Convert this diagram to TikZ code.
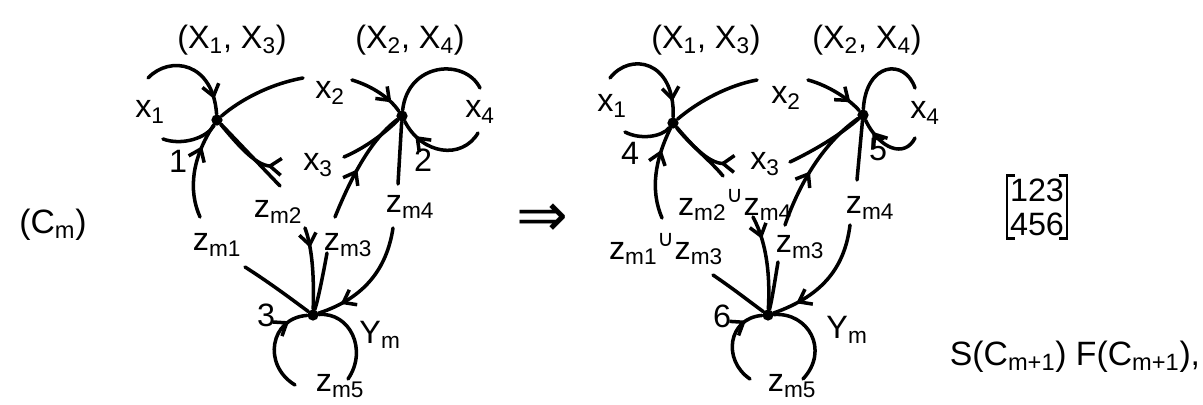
\documentclass[tikz,border=0pt]{standalone}
\usepackage{fontspec}
\setmainfont{Liberation Sans}
\newfontfamily\symfont{DejaVu Sans}
\usepackage{tikz}
\usetikzlibrary{arrows.meta,decorations.markings}

\begin{document}
\begin{tikzpicture}[
    x=0.025cm, y=-0.025cm,
    >={Straight Barb[length=8pt,width=12pt]},
    vtx/.style={circle, fill=black, inner sep=0pt, minimum size=8pt},
    lbl/.style={font=\fontsize{23}{25}\selectfont, inner sep=1pt},
    big/.style={font=\fontsize{24}{26}\selectfont, inner sep=1pt},
    ln/.style={line width=2.5pt, line cap=round},
    midarrow/.style={ln, postaction={decorate},
                     decoration={markings, mark=at position #1 with {\arrow{>}}}},
    brk/.style={line width=1.6pt}
]
\useasboundingbox (0,0) rectangle (1203,405);

\node[big] (cm) at (53,225) {(C\textsubscript{m})};

\node[vtx] (n1) at (217,120) {};
\node[vtx] (n2) at (402,116) {};
\node[vtx] (n3) at (313,315) {};
\coordinate (a1) at (148,78);
\coordinate (a2) at (163,139);
\coordinate (a3) at (303,78);
\coordinate (a4) at (352,80);
\coordinate (a5) at (283,167);
\coordinate (a6) at (280,186);
\coordinate (a7) at (305,228);
\coordinate (a8) at (327,253);
\coordinate (a9) at (335,217);
\coordinate (a10) at (344,157);
\coordinate (a11) at (398,184);
\coordinate (a12) at (393,228);
\coordinate (a13) at (200,217);
\coordinate (a14) at (245,267);
\coordinate (a15) at (295,385);
\coordinate (a16) at (348,379);
\coordinate (a17) at (480,88);
\coordinate (a18) at (478,133);
\draw[midarrow=0.85] (a1) .. controls (170,55) and (213,62) .. (n1);
\draw[ln] (a2) .. controls (182,146) and (207,138) .. (n1);
\draw[ln] (n1) .. controls (240,100) and (270,84) .. (a3);
\draw[midarrow=0.8] (a4) .. controls (372,86) and (390,98) .. (n2);
\draw[ln,-{Straight Barb[length=8pt,width=12pt,reversed]}] (n1) .. controls (238,145) and (255,165) .. (a5);
\draw[ln] (n1) -- (a6);
\draw[midarrow=0.25] (a7) .. controls (313,250) and (314,280) .. (n3);
\draw[ln] (a8) .. controls (323,275) and (318,300) .. (n3);
\draw[midarrow=0.45] (a9) .. controls (350,180) and (370,140) .. (n2);
\draw[ln] (a10) .. controls (365,148) and (385,133) .. (n2);
\draw[ln] (n2) -- (a11);
\draw[midarrow=0.8] (a12) .. controls (387,268) and (365,298) .. (n3);
\draw[midarrow=0.75] (a13) .. controls (188,190) and (192,158) .. (n1);
\draw[ln] (a14) .. controls (270,283) and (290,298) .. (n3);
\draw[midarrow=0.8] (a15) .. controls (262,365) and (270,318) .. (n3);
\draw[ln] (n3) .. controls (350,312) and (368,350) .. (a16);
\draw[ln] (n2) .. controls (408,62) and (465,58) .. (a17);
\draw[midarrow=0.8] (a18) .. controls (462,160) and (422,155) .. (n2);
\node[lbl] (l13) at (232,40) {(X\textsubscript{1}, X\textsubscript{3})};
\node[lbl] (l24) at (410,40) {(X\textsubscript{2}, X\textsubscript{4})};
\node[lbl] (lx1) at (150,112) {x\textsubscript{1}};
\node[lbl] (lx2) at (330,93) {x\textsubscript{2}};
\node[lbl] (lx3) at (318,165) {x\textsubscript{3}};
\node[lbl] (lx4) at (480,112) {x\textsubscript{4}};
\node[lbl] (lk1) at (178,161) {1};
\node[lbl] (lk2) at (423,160) {2};
\node[lbl] (lk3) at (266,315) {3};
\node[lbl] (lz1) at (217,245) {z\textsubscript{m1}};
\node[lbl] (lz2) at (278,212) {z\textsubscript{m2}};
\node[lbl] (lz3) at (348,245) {z\textsubscript{m3}};
\node[lbl] (lz4) at (410,207) {z\textsubscript{m4}};
\node[lbl] (lz5) at (340,386) {z\textsubscript{m5}};
\node[lbl] (lym) at (380,335) {Y\textsubscript{m}};

\node[font=\symfont\fontsize{44}{44}\selectfont, inner sep=0pt] (impl) at (542,220) {⇒};

\node[vtx] (n4) at (673,123) {};
\node[vtx] (n5) at (863,115) {};
\node[vtx] (n6) at (768,315) {};
\coordinate (b1) at (610,78);
\coordinate (b2) at (625,132);
\coordinate (b3) at (757,80);
\coordinate (b4) at (808,80);
\coordinate (b5) at (736,164);
\coordinate (b6) at (723,176);
\coordinate (b7) at (753,217);
\coordinate (b8) at (778,262);
\coordinate (b9) at (785,225);
\coordinate (b10) at (790,162);
\coordinate (b11) at (857,180);
\coordinate (b12) at (850,225);
\coordinate (b13) at (662,218);
\coordinate (b14) at (713,275);
\coordinate (b15) at (750,379);
\coordinate (b16) at (803,379);
\coordinate (b17) at (915,88);
\coordinate (b18) at (915,138);
\draw[midarrow=0.85] (b1) .. controls (630,52) and (675,60) .. (n4);
\draw[ln] (b2) .. controls (640,140) and (662,137) .. (n4);
\draw[ln] (n4) .. controls (700,100) and (730,85) .. (b3);
\draw[midarrow=0.8] (b4) .. controls (830,86) and (850,100) .. (n5);
\draw[ln,-{Straight Barb[length=8pt,width=12pt,reversed]}] (n4) .. controls (692,145) and (708,163) .. (b5);
\draw[ln] (n4) .. controls (690,145) and (710,160) .. (b6);
\draw[midarrow=0.25] (b7) .. controls (768,245) and (770,280) .. (n6);
\draw[ln] (b8) .. controls (775,280) and (772,300) .. (n6);
\draw[midarrow=0.45] (b9) .. controls (797,190) and (820,145) .. (n5);
\draw[ln] (b10) .. controls (815,150) and (840,135) .. (n5);
\draw[ln] (n5) -- (b11);
\draw[midarrow=0.8] (b12) .. controls (845,265) and (825,295) .. (n6);
\draw[midarrow=0.75] (b13) .. controls (650,190) and (655,160) .. (n4);
\draw[ln] (b14) .. controls (735,290) and (750,302) .. (n6);
\draw[midarrow=0.8] (b15) .. controls (722,360) and (728,318) .. (n6);
\draw[ln] (n6) .. controls (808,312) and (830,350) .. (b16);
\draw[ln] (n5) .. controls (866,62) and (905,58) .. (b17);
\draw[midarrow=0.8] (b18) .. controls (905,158) and (880,150) .. (n5);
\node[lbl] (r13) at (706,40) {(X\textsubscript{1}, X\textsubscript{3})};
\node[lbl] (r24) at (867,40) {(X\textsubscript{2}, X\textsubscript{4})};
\node[lbl] (rx1) at (612,106) {x\textsubscript{1}};
\node[lbl] (rx2) at (786,98) {x\textsubscript{2}};
\node[lbl] (rx3) at (765,164) {x\textsubscript{3}};
\node[lbl] (rx4) at (925,113) {x\textsubscript{4}};
\node[lbl] (rk4) at (630,153) {4};
\node[lbl] (rk5) at (878,150) {5};
\node[lbl] (rk6) at (722,316) {6};
\node[lbl] (rz13) at (666,249) {z\textsubscript{m1}\textsuperscript{\symfont ∪}z\textsubscript{m3}};
\node[lbl] (rz24) at (735,205) {z\textsubscript{m2}\textsuperscript{\symfont ∪}z\textsubscript{m4}};
\node[lbl] (rz3) at (800,247) {z\textsubscript{m3}};
\node[lbl] (rz4) at (870,208) {z\textsubscript{m4}};
\node[lbl] (rz5) at (792,386) {z\textsubscript{m5}};
\node[lbl] (rym) at (847,330) {Y\textsubscript{m}};

\node[font=\fontsize{23}{24}\selectfont, align=left, inner sep=2pt] (mat) at (1037,207) {123\\456};
\draw[brk] ([xshift=6pt]mat.north west) -- (mat.north west) -- (mat.south west) -- ([xshift=6pt]mat.south west);
\draw[brk] ([xshift=-6pt]mat.north east) -- (mat.north east) -- (mat.south east) -- ([xshift=-6pt]mat.south east);

\node[big] (sf) at (1075,357) {S(C\textsubscript{m+1}) F(C\textsubscript{m+1}),};
\end{tikzpicture}
\end{document}
